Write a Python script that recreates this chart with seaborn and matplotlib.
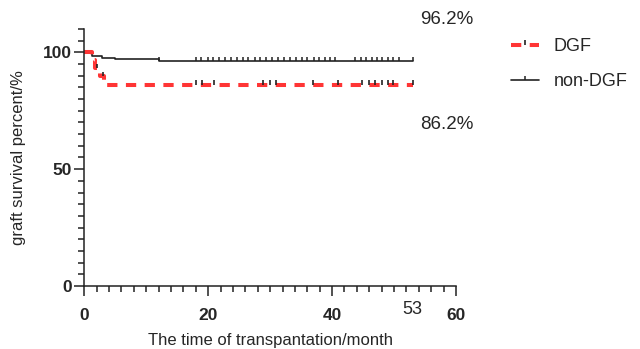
import matplotlib
matplotlib.use("Agg")
import matplotlib.pyplot as plt
from matplotlib.path import Path
from matplotlib.lines import Line2D
import seaborn as sns
import pandas as pd

# Kaplan-Meier step curves (months, survival %)
dgf_time = [0, 1.3, 1.8, 2.6, 3.2, 53]
dgf_surv = [100, 96.6, 93.1, 89.7, 86.2, 86.2]
non_dgf_time = [0, 1.3, 2.8, 5, 12, 53]
non_dgf_surv = [100, 98.4, 97.5, 97.1, 96.2, 96.2]

# censored observations (months)
dgf_censor = [2.0, 3.0, 18.0, 19.0, 21.0, 28.9, 30.0, 30.9, 36.9, 41.0,
              44.9, 46.0, 46.9, 48.0, 49.0, 49.9, 53.0]
non_dgf_censor = [12.0, 18.0, 18.9, 19.9, 20.8, 21.8, 22.7, 23.7, 24.6, 25.6,
                  26.5, 27.5, 28.4, 29.4, 30.3, 31.3, 32.2, 33.2, 34.1, 35.1,
                  36.0, 37.0, 37.9, 38.8, 39.6, 40.5, 43.7, 44.6, 45.4, 46.4,
                  47.2, 48.1, 49.0, 49.8, 50.8, 53.0]

labels = ["DGF", "non-DGF"]
final_labels = ["96.2%", "86.2%"]
x_ticks = [0, 20, 40, 60]
y_ticks = [0, 50, 100]

RED = "#FF3535"
DARK = "#222222"


def step_value(times, surv, t):
    val = surv[0]
    for ti, si in zip(times, surv):
        if ti <= t:
            val = si
    return val


dgf_df = pd.DataFrame({"t": dgf_time, "s": dgf_surv})
non_df = pd.DataFrame({"t": non_dgf_time, "s": non_dgf_surv})
dgf_c = pd.DataFrame({"t": dgf_censor,
                      "s": [step_value(dgf_time, dgf_surv, t) for t in dgf_censor]})
non_c = pd.DataFrame({"t": non_dgf_censor,
                      "s": [step_value(non_dgf_time, non_dgf_surv, t) for t in non_dgf_censor]})

sns.set_theme(style="ticks")
plt.rcParams["font.family"] = ["Liberation Sans", "DejaVu Sans"]

fig = plt.figure(figsize=(6.4, 3.49), dpi=100)
ax = fig.add_axes([84.3 / 640, 63 / 349, (456 - 84.3) / 640, (286 - 28.9) / 349])

# tick mark pointing up from the curve
tick_up = Path([(0, 0), (0, 1)], [Path.MOVETO, Path.LINETO])

sns.lineplot(data=non_df, x="t", y="s", ax=ax, drawstyle="steps-post",
             color=DARK, linewidth=1.2, estimator=None, sort=False)
sns.lineplot(data=dgf_df, x="t", y="s", ax=ax, drawstyle="steps-post",
             color=RED, linewidth=2.9, estimator=None, sort=False,
             linestyle=(0, (2.55, 2.1)), dash_capstyle="butt")

sns.scatterplot(data=non_c, x="t", y="s", ax=ax, marker=tick_up, s=33,
                facecolor="none", edgecolor=DARK, linewidth=1.1, zorder=4)
sns.scatterplot(data=dgf_c, x="t", y="s", ax=ax, marker=tick_up, s=45,
                facecolor="none", edgecolor=DARK, linewidth=1.2, zorder=4)

ax.set_xlim(0, 60)
ax.set_ylim(0, 110)
ax.set_xticks(x_ticks)
ax.set_yticks(y_ticks)
ax.set_xticks([v for v in range(0, 61, 2)], minor=True)
ax.set_yticks([v for v in range(0, 111, 5)], minor=True)
ax.set_xticklabels([str(v) for v in x_ticks], fontweight="bold", fontsize=12.5)
ax.set_yticklabels([str(v) for v in y_ticks], fontweight="bold", fontsize=12.5)
ax.tick_params(axis="both", which="major", length=7, width=1.1, color="#222222", pad=2)
ax.tick_params(axis="x", which="major", pad=9)
ax.tick_params(axis="both", which="minor", length=4, width=1.1, color="#222222")
for side in ["left", "bottom"]:
    ax.spines[side].set_linewidth(1.1)
    ax.spines[side].set_color("#222222")
sns.despine(ax=ax)
ax.spines["left"].set_bounds(0, 110)

ax.set_xlabel("The time of transpantation/month", fontsize=12, labelpad=7)
ax.set_ylabel("graft survival percent/%", fontsize=12, labelpad=12)

# final survival values and last follow-up time
fig.text(420 / 640, 1 - 20 / 349, final_labels[0], fontsize=13.5, va="center", ha="left")
fig.text(420 / 640, 1 - 125 / 349, final_labels[1], fontsize=13.5, va="center", ha="left")
ax.annotate("53", xy=(53, 0), xycoords="data", xytext=(0, -17),
            textcoords="offset points", ha="center", va="center", fontsize=13)

handles = [
    Line2D([], [], color=RED, linewidth=2.9, linestyle=(0, (2.55, 2.1)),
           dash_capstyle="butt", marker=tick_up, markersize=6.5,
           markeredgecolor=DARK, markeredgewidth=1.2),
    Line2D([], [], color=DARK, linewidth=1.2, marker=tick_up, markersize=6,
           markeredgecolor=DARK, markeredgewidth=1.1),
]
fig.legend(handles, labels, loc="upper left", bbox_to_anchor=(511 / 640, 1 - 38 / 349),
           frameon=False, fontsize=13, handlelength=1.55, handletextpad=0.8,
           labelspacing=1.0, borderpad=0, borderaxespad=0, numpoints=1)

fig.savefig("out.png", dpi=100)
